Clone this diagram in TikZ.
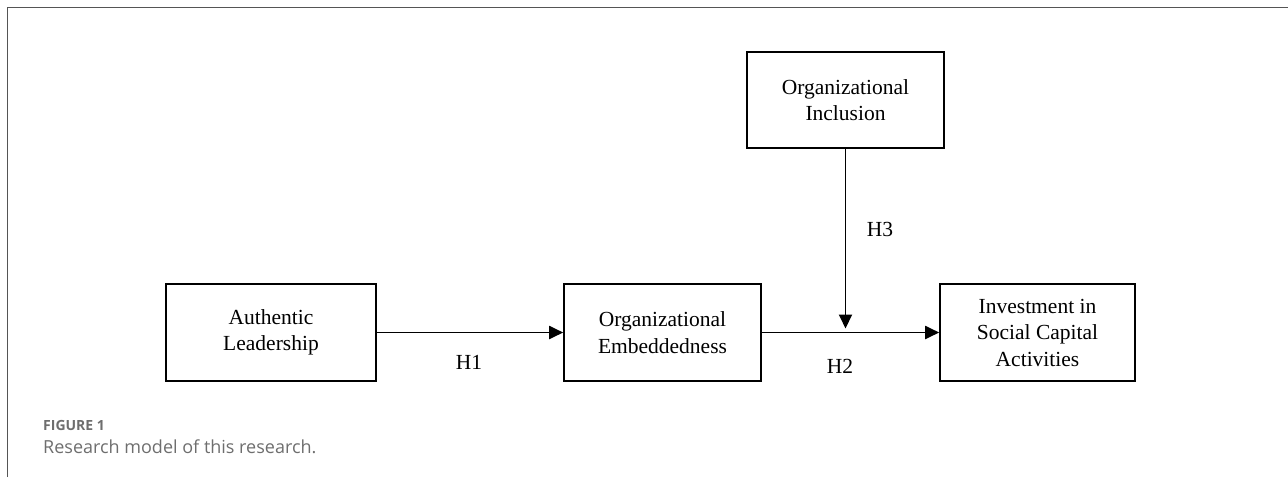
\documentclass[tikz,border=0pt]{standalone}
\usepackage{fontspec}
\setmainfont{Liberation Serif}
\newfontfamily\capfont{Open Sans}
\usetikzlibrary{arrows.meta}
\definecolor{capgray}{HTML}{6E6E6E}
\definecolor{framegray}{HTML}{555555}
\tikzset{
  x=1pt, y=-1pt,
  boxnode/.style={draw, line width=1.6pt, inner sep=0pt, align=center,
    font=\fontsize{21.5}{26.5}\selectfont},
  hlabel/.style={font=\fontsize{21.5}{26}\selectfont, inner sep=0pt},
  conn/.style={line width=1.9pt, -{Triangle[length=14pt,width=13pt]}},
}
\begin{document}
\begin{tikzpicture}
\useasboundingbox (0,0) rectangle (1288,477);
\draw[framegray, line width=1pt] (7,477) -- (7,7) -- (1288,7);
\node[boxnode, minimum width=210pt, minimum height=97pt] (al) at (271,332.5) {Authentic\\Leadership};
\node[boxnode, minimum width=197pt, minimum height=97pt] (oe) at (662.5,332.5) {Organizational\\Embeddedness};
\node[boxnode, minimum width=195pt, minimum height=97pt] (isc) at (1037.5,332.5) {Investment in\\Social Capital\\Activities};
\node[boxnode, minimum width=197pt, minimum height=96pt] (oi) at (845.5,100) {Organizational\\Inclusion};
\coordinate (mod) at (oi.south |- oe.east);
\draw[conn] (al) -- (oe);
\draw[conn] (oe) -- (isc);
\draw[conn, shorten >=4pt] (oi) -- (mod);
\node[hlabel] (h1) at (469,362) {H1};
\node[hlabel] (h2) at (840,366) {H2};
\node[hlabel] (h3) at (880,229) {H3};
\node[anchor=base west, inner sep=0pt, text=capgray, font=\capfont\bfseries\fontsize{14}{16}\selectfont] (fig) at (43,430) {FIGURE 1};
\node[anchor=base west, inner sep=0pt, text=capgray, font=\capfont\fontsize{18}{20}\selectfont] (cap) at (43,453) {Research model of this research.};
\end{tikzpicture}
\end{document}
